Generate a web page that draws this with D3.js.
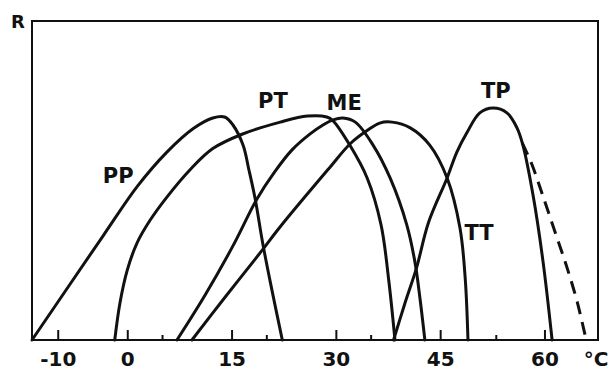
<!DOCTYPE html>
<html>
<head>
<meta charset="utf-8">
<script src="https://cdn.jsdelivr.net/npm/d3@7"></script>
<style>
  html, body { margin: 0; padding: 0; background: #fff; }
  svg { display: block; font-family: "DejaVu Sans", sans-serif; }
</style>
</head>
<body>
<svg id="chart"></svg>
<script>
// response R (0-100, arbitrary) against temperature in °C
const PP = [[-13.7, 0], [-3.4, 32.9], [1.5, 48.3], [5.7, 58.9], [9.5, 66.3], [12.3, 69.6],
  [14.0, 69.9], [15.2, 67.4], [16.65, 61.1], [17.5, 53.3], [18.4, 44.2], [19.5, 30.1],
  [20.8, 15.7], [22.3, 0]];
const PT = [[-1.8, 0], [-1.05, 11.6], [0.0, 21.9], [1.4, 30.4], [3.3, 37.6], [5.7, 44.8],
  [9.0, 53.3], [12.3, 60.0], [16.5, 64.5], [22.0, 68.3], [25.9, 70.2], [28.7, 69.9],
  [29.6, 68.7], [32.0, 61.1], [34.5, 50.8], [36.5, 36.1], [37.6, 18.8], [38.5, 0]];
const ME = [[7.15, 0], [11.2, 14.1], [15.2, 29.5], [18.65, 44.2], [21.2, 52.7], [23.7, 59.6],
  [26.3, 64.6], [28.15, 67.4], [29.6, 69.0], [31.0, 69.6], [32.8, 68.3], [35.35, 61.1],
  [37.8, 50.8], [40.2, 36.1], [41.4, 24.1], [42.1, 13.0], [42.8, 0]];
const TT = [[9.3, 0], [14.2, 13.8], [19.1, 27.3], [22.0, 35.5], [28.9, 53.5],
  [32.1, 61.6], [34.6, 65.8], [36.3, 68.0], [38.1, 68.3], [40.7, 66.5], [43.5, 61.1],
  [46.0, 50.8], [47.85, 35.1], [48.6, 19.4], [49.0, 0]];
const TP = [[38.3, 0], [39.9, 11.3], [41.6, 22.6], [43.3, 36.7], [46.0, 50.8], [47.4, 58.9],
  [48.9, 65.2], [50.7, 71.2], [52.6, 72.7], [54.6, 71.2], [56.05, 66.5], [56.9, 61.1],
  [58.35, 45.5], [59.8, 24.5], [61.1, 0]];
// dashed alternative falling branch of TP
const TPdash = [[56.8, 61.8], [58.2, 55.0], [59.8, 45.0], [61.5, 34.0], [63.2, 23.0],
  [64.7, 12.0], [66.0, 0]];

const curveNames = ["PP", "PT", "ME", "TT", "TP"];
const curves = [PP, PT, ME, TT, TP];
// where each name is lettered, in (°C, R) units
const labelAt = [[-1.3, 49.2], [20.95, 72.7], [31.2, 72.1], [50.6, 31.3], [53.0, 75.9]];

const majorTicks = [-10, 0, 15, 30, 45, 60];
const tickLabels = ["-10", "0", "15", "30", "45", "60"];
const minorTicks = [5, 20, 35, 53];

const W = 611, H = 372;
const margin = {top: 21, right: 13, bottom: 32, left: 32};
const iw = W - margin.left - margin.right;
const ih = H - margin.top - margin.bottom;

const svg = d3.select("#chart").attr("width", W).attr("height", H);
const g = svg.append("g").attr("transform", `translate(${margin.left},${margin.top})`);

const x = d3.scaleLinear().domain([-13.7, 67.7]).range([0, iw]);
const y = d3.scaleLinear().domain([0, 100]).range([ih, 0]);

// frame
g.append("rect")
  .attr("width", iw).attr("height", ih)
  .attr("fill", "none").attr("stroke", "#111").attr("stroke-width", 2);

// ticks point up into the frame
const xAxis = d3.axisBottom(x)
  .tickValues(majorTicks)
  .tickFormat((d, i) => tickLabels[i])
  .tickSizeInner(-10).tickSizeOuter(0).tickPadding(12);
const ax = g.append("g").attr("transform", `translate(0,${ih})`).call(xAxis);
ax.select(".domain").remove();
ax.selectAll("line").attr("stroke", "#111").attr("stroke-width", 2);
ax.selectAll("text")
  .attr("fill", "#111").attr("font-size", 20).attr("font-weight", "bold")
  .attr("font-family", "DejaVu Sans, sans-serif");

const minorAxis = d3.axisBottom(x).tickValues(minorTicks).tickFormat("")
  .tickSizeInner(-5).tickSizeOuter(0);
const mx = g.append("g").attr("transform", `translate(0,${ih})`).call(minorAxis);
mx.select(".domain").remove();
mx.selectAll("line").attr("stroke", "#111").attr("stroke-width", 2);

const line = d3.line()
  .x(d => x(d[0]))
  .y(d => y(d[1]))
  .curve(d3.curveCatmullRom.alpha(0.5));

g.selectAll("path.curve")
  .data(curves)
  .enter()
  .append("path")
  .attr("class", "curve")
  .attr("d", line)
  .attr("fill", "none")
  .attr("stroke", "#111")
  .attr("stroke-width", 3)
  .attr("stroke-linecap", "round");

g.append("path")
  .datum(TPdash)
  .attr("d", line)
  .attr("fill", "none")
  .attr("stroke", "#111")
  .attr("stroke-width", 3)
  .attr("stroke-dasharray", "13,8");

// curve names
g.selectAll("text.name")
  .data(curveNames)
  .enter()
  .append("text")
  .attr("class", "name")
  .attr("x", (d, i) => x(labelAt[i][0]))
  .attr("y", (d, i) => y(labelAt[i][1]))
  .attr("text-anchor", "middle")
  .attr("font-size", 21)
  .attr("font-weight", "bold")
  .attr("fill", "#111")
  .text(d => d);

// axis names
svg.append("text")
  .attr("x", 18).attr("y", 28)
  .attr("text-anchor", "middle")
  .attr("font-size", 18).attr("font-weight", "bold").attr("fill", "#111")
  .text("R");
svg.append("text")
  .attr("x", 596).attr("y", 366)
  .attr("text-anchor", "middle")
  .attr("font-size", 20).attr("font-weight", "bold").attr("fill", "#111")
  .text("°C");
</script>
</body>
</html>
